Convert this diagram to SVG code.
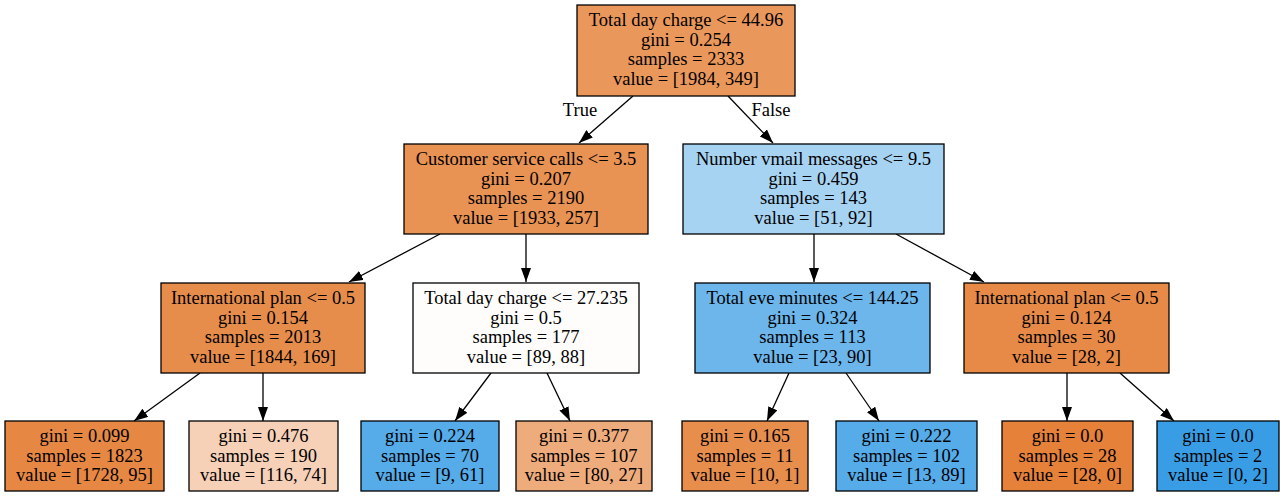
<svg xmlns="http://www.w3.org/2000/svg" width="1285" height="497" viewBox="0 0 1285 497">
<style>
  .box { stroke: #000; stroke-width: 1.3; }
  text { font-family: "Liberation Serif", "Times New Roman", serif; font-size: 18.5px; fill: #000; text-anchor: middle; }
  .edge { stroke: #000; stroke-width: 1.3; fill: none; marker-end: url(#arr); }
</style>
<defs>
  <marker id="arr" markerUnits="userSpaceOnUse" markerWidth="14" markerHeight="10" refX="14" refY="5" orient="auto">
    <path d="M0,0 L14,5 L0,10 z" fill="#000"/>
  </marker>
</defs>
<rect width="1285" height="497" fill="#fff"/>
<g id="connectors">
  <line class="edge" x1="633" y1="96" x2="579" y2="143"/>
  <line class="edge" x1="728" y1="96" x2="773" y2="143"/>
  <line class="edge" x1="440" y1="234" x2="349" y2="282"/>
  <line class="edge" x1="526" y1="234" x2="526" y2="282"/>
  <line class="edge" x1="814" y1="234" x2="814" y2="282"/>
  <line class="edge" x1="896" y1="234" x2="984" y2="282"/>
  <line class="edge" x1="200" y1="373" x2="134" y2="421"/>
  <line class="edge" x1="263" y1="373" x2="263" y2="421"/>
  <line class="edge" x1="491" y1="373" x2="455" y2="421"/>
  <line class="edge" x1="547" y1="373" x2="570" y2="421"/>
  <line class="edge" x1="789" y1="373" x2="767" y2="421"/>
  <line class="edge" x1="846" y1="373" x2="879" y2="421"/>
  <line class="edge" x1="1067" y1="373" x2="1067" y2="421"/>
  <line class="edge" x1="1120" y1="373" x2="1174" y2="421"/>
  <text x="580" y="116">True</text>
  <text x="771" y="116">False</text>
</g>
<g id="n0">
  <rect class="box" x="577" y="5" width="218" height="91" fill="#ea975c"/>
  <text x="686" y="26">Total day charge &lt;= 44.96</text>
  <text x="686" y="45.5">gini = 0.254</text>
  <text x="686" y="65">samples = 2333</text>
  <text x="686" y="84.5">value = [1984, 349]</text>
</g>
<g id="n1">
  <rect class="box" x="404" y="144" width="244" height="90" fill="#e89253"/>
  <text x="526" y="165">Customer service calls &lt;= 3.5</text>
  <text x="526" y="184.5">gini = 0.207</text>
  <text x="526" y="204">samples = 2190</text>
  <text x="526" y="223.5">value = [1933, 257]</text>
</g>
<g id="n2">
  <rect class="box" x="683" y="144" width="261" height="90" fill="#a7d3f3"/>
  <text x="813.5" y="165">Number vmail messages &lt;= 9.5</text>
  <text x="813.5" y="184.5">gini = 0.459</text>
  <text x="813.5" y="204">samples = 143</text>
  <text x="813.5" y="223.5">value = [51, 92]</text>
</g>
<g id="n3">
  <rect class="box" x="161" y="283" width="204" height="90" fill="#e78d4b"/>
  <text x="263" y="304">International plan &lt;= 0.5</text>
  <text x="263" y="323.5">gini = 0.154</text>
  <text x="263" y="343">samples = 2013</text>
  <text x="263" y="362.5">value = [1844, 169]</text>
</g>
<g id="n4">
  <rect class="box" x="413" y="283" width="226" height="90" fill="#fefdfc"/>
  <text x="526" y="304">Total day charge &lt;= 27.235</text>
  <text x="526" y="323.5">gini = 0.5</text>
  <text x="526" y="343">samples = 177</text>
  <text x="526" y="362.5">value = [89, 88]</text>
</g>
<g id="n5">
  <rect class="box" x="695" y="283" width="235" height="90" fill="#6cb6ec"/>
  <text x="812.5" y="304">Total eve minutes &lt;= 144.25</text>
  <text x="812.5" y="323.5">gini = 0.324</text>
  <text x="812.5" y="343">samples = 113</text>
  <text x="812.5" y="362.5">value = [23, 90]</text>
</g>
<g id="n6">
  <rect class="box" x="964" y="283" width="205" height="90" fill="#e78a47"/>
  <text x="1066.5" y="304">International plan &lt;= 0.5</text>
  <text x="1066.5" y="323.5">gini = 0.124</text>
  <text x="1066.5" y="343">samples = 30</text>
  <text x="1066.5" y="362.5">value = [28, 2]</text>
</g>
<g id="n7">
  <rect class="box" x="5" y="421" width="159" height="70" fill="#e68844"/>
  <text x="84.5" y="442">gini = 0.099</text>
  <text x="84.5" y="461.5">samples = 1823</text>
  <text x="84.5" y="481">value = [1728, 95]</text>
</g>
<g id="n8">
  <rect class="box" x="189" y="421" width="149" height="70" fill="#f6d1b7"/>
  <text x="263.5" y="442">gini = 0.476</text>
  <text x="263.5" y="461.5">samples = 190</text>
  <text x="263.5" y="481">value = [116, 74]</text>
</g>
<g id="n9">
  <rect class="box" x="361" y="421" width="138" height="70" fill="#56abe9"/>
  <text x="430" y="442">gini = 0.224</text>
  <text x="430" y="461.5">samples = 70</text>
  <text x="430" y="481">value = [9, 61]</text>
</g>
<g id="n10">
  <rect class="box" x="516" y="421" width="136" height="70" fill="#eeab7c"/>
  <text x="584" y="442">gini = 0.377</text>
  <text x="584" y="461.5">samples = 107</text>
  <text x="584" y="481">value = [80, 27]</text>
</g>
<g id="n11">
  <rect class="box" x="682" y="421" width="126" height="70" fill="#e88e4d"/>
  <text x="745" y="442">gini = 0.165</text>
  <text x="745" y="461.5">samples = 11</text>
  <text x="745" y="481">value = [10, 1]</text>
</g>
<g id="n12">
  <rect class="box" x="836" y="421" width="141" height="70" fill="#56abe9"/>
  <text x="906.5" y="442">gini = 0.222</text>
  <text x="906.5" y="461.5">samples = 102</text>
  <text x="906.5" y="481">value = [13, 89]</text>
</g>
<g id="n13">
  <rect class="box" x="1002" y="421" width="131" height="70" fill="#e58139"/>
  <text x="1067.5" y="442">gini = 0.0</text>
  <text x="1067.5" y="461.5">samples = 28</text>
  <text x="1067.5" y="481">value = [28, 0]</text>
</g>
<g id="n14">
  <rect class="box" x="1157" y="421" width="122" height="70" fill="#399de5"/>
  <text x="1218" y="442">gini = 0.0</text>
  <text x="1218" y="461.5">samples = 2</text>
  <text x="1218" y="481">value = [0, 2]</text>
</g>
</svg>
